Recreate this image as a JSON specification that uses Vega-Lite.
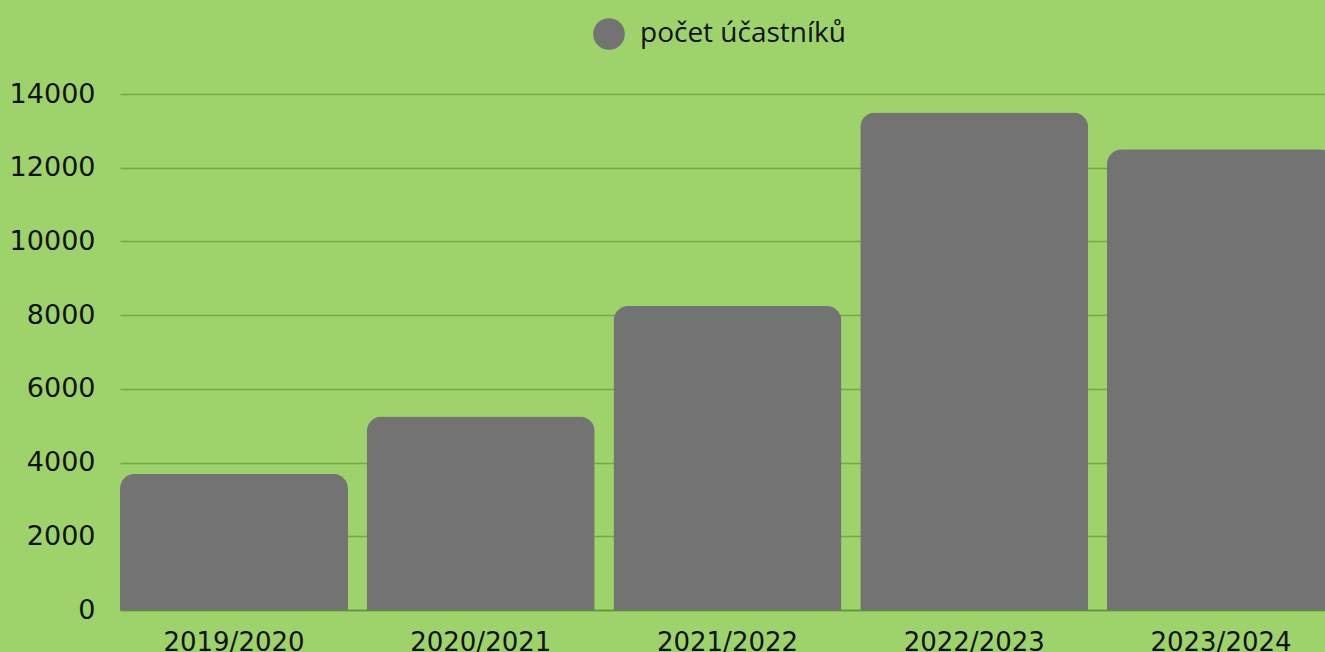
{
  "$schema": "https://vega.github.io/schema/vega-lite/v6.json",
  "autosize": "none",
  "width": 1215,
  "height": 516,
  "padding": {"left": 120, "top": 94, "right": -10, "bottom": 42},
  "background": "#9dd36a",
  "config": {
    "view": {"stroke": null},
    "font": "DejaVu Sans"
  },
  "data": {
    "values": [
      {"rok": "2019/2020", "pocet": 3700, "serie": "počet účastníků"},
      {"rok": "2020/2021", "pocet": 5250, "serie": "počet účastníků"},
      {"rok": "2021/2022", "pocet": 8250, "serie": "počet účastníků"},
      {"rok": "2022/2023", "pocet": 13500, "serie": "počet účastníků"},
      {"rok": "2023/2024", "pocet": 12500, "serie": "počet účastníků"}
    ]
  },
  "mark": {"type": "bar", "cornerRadiusTopLeft": 15, "cornerRadiusTopRight": 15},
  "encoding": {
    "x": {
      "field": "rok",
      "type": "nominal",
      "sort": null,
      "scale": {"paddingInner": 0.076, "paddingOuter": 0},
      "axis": {
        "title": null,
        "labelAngle": 0,
        "ticks": false,
        "labelPadding": 19,
        "labelFontSize": 26,
        "labelColor": "#111111",
        "labelFont": "DejaVu Sans",
        "domain": true,
        "domainColor": "#5f8f43",
        "domainWidth": 1.5,
        "zindex": 1
      }
    },
    "y": {
      "field": "pocet",
      "type": "quantitative",
      "scale": {"domain": [0, 14000]},
      "axis": {
        "title": null,
        "values": [0, 2000, 4000, 6000, 8000, 10000, 12000, 14000],
        "format": "d",
        "ticks": false,
        "domain": false,
        "labelPadding": 25,
        "labelFontSize": 27,
        "labelColor": "#111111",
        "labelFont": "DejaVu Sans",
        "gridColor": "#74a64a",
        "gridWidth": 1.5
      }
    },
    "color": {
      "field": "serie",
      "type": "nominal",
      "scale": {"range": ["#737373"]},
      "legend": {
        "title": null,
        "orient": "none",
        "legendX": 473,
        "legendY": -76,
        "symbolType": "circle",
        "symbolSize": 1000,
        "symbolStrokeWidth": 0,
        "symbolOpacity": 1,
        "labelFont": "Open Sans",
        "labelFontSize": 28,
        "labelColor": "#111111",
        "labelOffset": 15,
        "labelLimit": 0,
        "padding": 0
      }
    }
  }
}
